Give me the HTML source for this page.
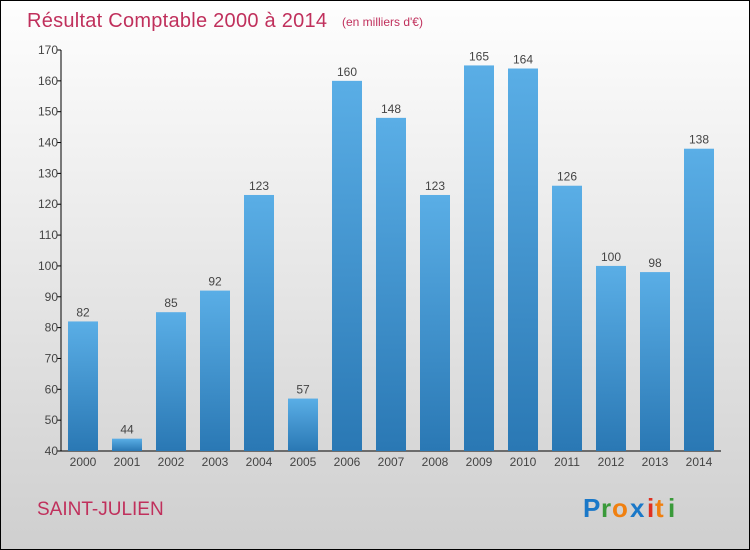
<!DOCTYPE html>
<html><head><meta charset="utf-8"><style>
body{margin:0;}
#c{width:748px;height:548px;border:1px solid #000;background:linear-gradient(#fefefe,#cfcfcf);position:relative;font-family:"Liberation Sans",sans-serif;}
</style></head><body>
<div id="c">
<svg width="748" height="548" style="position:absolute;left:0;top:0" id="svg">
<defs><linearGradient id="bg" x1="0" y1="0" x2="0" y2="1"><stop offset="0" stop-color="#5aaee6"/><stop offset="1" stop-color="#2a78b4"/></linearGradient></defs>
<text x="26" y="26" font-size="20" fill="#c0305c" textLength="300">Résultat Comptable 2000 à 2014</text>
<text x="341" y="25" font-size="12" fill="#c0305c">(en milliers d'€)</text>
<text x="36" y="514" font-size="19" fill="#c0305c">SAINT-JULIEN</text>
<g font-size="26" font-weight="bold" font-family="Liberation Sans,sans-serif">
<text x="582" y="516" fill="#1a78c8">P</text><text x="600" y="516" fill="#3a9a3a">r</text><text x="611" y="516" fill="#f08010">o</text><text x="629" y="516" fill="#1a78c8">x</text><text x="646" y="516" fill="#e03020">i</text><text x="654" y="516" fill="#f08010">t</text><text x="667" y="516" fill="#3a9a3a">i</text></g>
<g id="plot"></g>
</svg></div>
<script>
const years=["2000","2001","2002","2003","2004","2005","2006","2007","2008","2009","2010","2011","2012","2013","2014"];
const values=[82,44,85,92,123,57,160,148,123,165,164,126,100,98,138];
const ticks=[40,50,60,70,80,90,100,110,120,130,140,150,160,170];
const ns="http://www.w3.org/2000/svg";
const g=document.getElementById('plot');
const x0=60,x1=720,yTop=49,yBot=450,vMin=40,vMax=170;
const y=v=>yBot-(v-vMin)/(vMax-vMin)*(yBot-yTop);
const slot=(x1-x0)/years.length;
function el(t,a){const e=document.createElementNS(ns,t);for(const k in a)e.setAttribute(k,a[k]);g.appendChild(e);return e;}
let ax=el('line',{x1:x0,y1:yTop,x2:x0,y2:yBot,stroke:'#000'});


let xa=el('line',{x1:x0,y1:yBot,x2:x1,y2:yBot,stroke:'#000'});


ticks.forEach(t=>{
 let l=el('line',{x1:x0-4,y1:y(t),x2:x0,y2:y(t),stroke:'#000'});
 
 
 let tx=el('text',{x:x0-3,y:y(t)+4,'font-size':12,fill:'#444','text-anchor':'end'});tx.textContent=t;
 
 
});
years.forEach((yr,i)=>{
 const cx=x0+slot*(i+0.5),v=values[i];
 let r=el('rect',{x:cx-15,y:y(v),width:30,height:yBot-y(v),fill:'url(#bg)'});
 
 
 let lb=el('text',{x:cx,y:y(v)-5,'font-size':12,fill:'#444','text-anchor':'middle'});lb.textContent=v;
 
 
 let xl=el('text',{x:cx,y:yBot+15,'font-size':12,fill:'#444','text-anchor':'middle'});xl.textContent=yr;
 
 
});
</script>
</body></html>
